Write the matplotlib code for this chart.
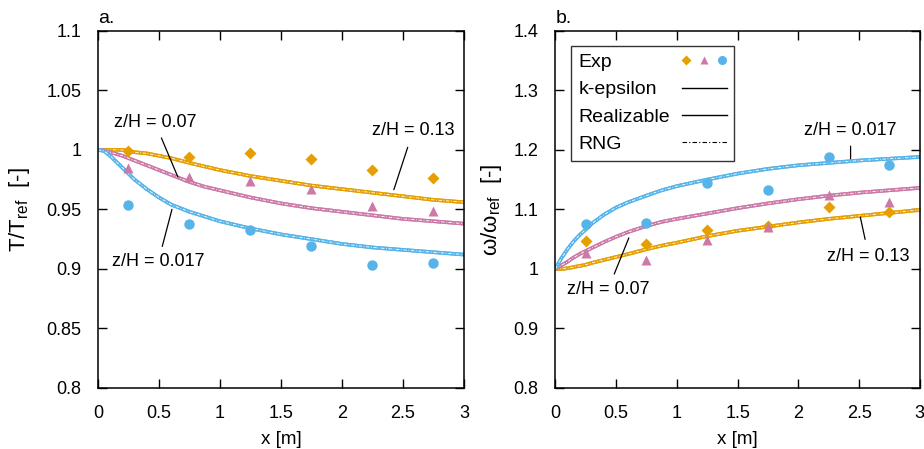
import numpy as np
import matplotlib.pyplot as plt
from matplotlib.lines import Line2D
from matplotlib.legend_handler import HandlerTuple

plt.rcParams['font.family'] = ['Liberation Sans', 'DejaVu Sans']
plt.rcParams['font.size'] = 13
plt.rcParams['mathtext.fontset'] = 'custom'
plt.rcParams['mathtext.rm'] = 'Liberation Sans'
plt.rcParams['mathtext.it'] = 'Liberation Sans:italic'

# colours (gnuplot-like)
c_org = '#E69F00'
c_pnk = '#CC79A7'
c_blu = '#56B4E9'

# experimental positions
x_exp = np.array([0.25, 0.75, 1.25, 1.75, 2.25, 2.75])

# a. temperature, experiments
T_exp_013 = [0.999, 0.994, 0.997, 0.992, 0.983, 0.976]
T_exp_007 = [0.985, 0.977, 0.974, 0.967, 0.953, 0.949]
T_exp_0017 = [0.954, 0.938, 0.933, 0.919, 0.903, 0.905]

# b. omega, experiments
w_exp_013 = [1.047, 1.042, 1.065, 1.072, 1.104, 1.095]
w_exp_007 = [1.026, 1.015, 1.049, 1.070, 1.124, 1.112]
w_exp_0017 = [1.076, 1.077, 1.144, 1.133, 1.188, 1.174]

# simulation curves
x_sim = np.array([0, 0.05, 0.1, 0.15, 0.2, 0.25, 0.3, 0.4, 0.5, 0.6, 0.75, 0.875, 1.0,
                  1.25, 1.5, 1.75, 2.0, 2.25, 2.5, 2.75, 3.0])
T_sim_013 = [1.0, 1.0, 1.0, 1.0, 0.9998, 0.9993, 0.998, 0.997, 0.995, 0.993, 0.989, 0.986, 0.983,
             0.978, 0.974, 0.970, 0.967, 0.964, 0.961, 0.958, 0.956]
T_sim_007 = [1.0, 0.9995, 0.998, 0.9965, 0.995, 0.993, 0.991, 0.987, 0.983, 0.979, 0.973, 0.969, 0.966,
             0.960, 0.955, 0.951, 0.948, 0.945, 0.942, 0.940, 0.938]
T_sim_0017 = [1.0, 0.999, 0.995, 0.990, 0.985, 0.980, 0.975, 0.967, 0.960, 0.954, 0.948, 0.944, 0.940,
              0.934, 0.929, 0.925, 0.921, 0.918, 0.916, 0.914, 0.912]
w_sim_013 = [1.0, 1.0, 1.001, 1.003, 1.005, 1.007, 1.010, 1.015, 1.020, 1.025, 1.033, 1.039, 1.044,
             1.055, 1.064, 1.071, 1.078, 1.084, 1.089, 1.094, 1.099]
w_sim_007 = [1.0, 1.006, 1.012, 1.019, 1.025, 1.030, 1.035, 1.045, 1.054, 1.062, 1.072, 1.079, 1.084,
             1.093, 1.102, 1.110, 1.117, 1.123, 1.128, 1.132, 1.136]
w_sim_0017 = [1.0, 1.018, 1.033, 1.046, 1.057, 1.066, 1.076, 1.091, 1.103, 1.112, 1.123, 1.132, 1.139,
              1.150, 1.160, 1.168, 1.174, 1.178, 1.182, 1.185, 1.188]

fig = plt.figure(figsize=(9.24, 4.49), dpi=100)
axA = fig.add_axes([0.106, 0.1359, 0.396, 0.7957])
axB = fig.add_axes([0.601, 0.1359, 0.3945, 0.7957])


def draw_curve(ax, y, col):
    ax.plot(x_sim, y, color=col, lw=2.6, solid_capstyle='butt')   # k-epsilon
    ax.plot(x_sim, y, color=col, lw=2.6, solid_capstyle='butt')   # Realizable
    ax.plot(x_sim, y, color='white', lw=0.6, ls=(0, (4, 2, 1, 2)))  # RNG


def style(ax):
    ax.set_xlim(0, 3)
    ax.set_xticks([0, 0.5, 1, 1.5, 2, 2.5, 3])
    ax.set_xticklabels(['0', '0.5', '1', '1.5', '2', '2.5', '3'])
    ax.tick_params(direction='in', length=6.5, width=1, top=True, right=True, pad=12, labelsize=13)
    for s in ax.spines.values():
        s.set_linewidth(1.1)
    ax.set_xlabel('x [m]', fontsize=13.5, labelpad=7)


arrow = dict(arrowstyle='-', lw=0.9, color='black', shrinkB=0)

for y, col in [(T_sim_013, c_org), (T_sim_007, c_pnk), (T_sim_0017, c_blu)]:
    draw_curve(axA, y, col)
axA.plot(x_exp, T_exp_013, 'D', color=c_org, ms=6.5, mec='none')
axA.plot(x_exp, T_exp_007, '^', color=c_pnk, ms=7.5, mec='none')
axA.plot(x_exp, T_exp_0017, 'o', color=c_blu, ms=7.5, mec='none')
style(axA)
axA.set_ylim(0.8, 1.1)
axA.set_yticks([0.8, 0.85, 0.9, 0.95, 1.0, 1.05, 1.1])
axA.set_yticklabels(['0.8', '0.85', '0.9', '0.95', '1', '1.05', '1.1'])
axA.set_ylabel(r'T/T$_{\mathrm{ref}}$  [-]', fontsize=16, labelpad=10)
axA.text(0, 1.103, 'a.', fontsize=14, ha='left', va='bottom')

axA.annotate('z/H = 0.07', xy=(0.656, 0.977), xytext=(0.13, 1.0226), fontsize=13,
             ha='left', va='center', arrowprops=dict(arrow, shrinkA=3))
axA.annotate('z/H = 0.017', xy=(0.607, 0.950), xytext=(0.115, 0.906), fontsize=13,
             ha='left', va='center', arrowprops=dict(arrow, shrinkA=3))
axA.annotate('z/H = 0.13', xy=(2.426, 0.9665), xytext=(2.246, 1.016), fontsize=13,
             ha='left', va='center', arrowprops=dict(arrow, shrinkA=4))

for y, col in [(w_sim_013, c_org), (w_sim_007, c_pnk), (w_sim_0017, c_blu)]:
    draw_curve(axB, y, col)
axB.plot(x_exp, w_exp_013, 'D', color=c_org, ms=6.5, mec='none')
axB.plot(x_exp, w_exp_007, '^', color=c_pnk, ms=7.5, mec='none')
axB.plot(x_exp, w_exp_0017, 'o', color=c_blu, ms=7.5, mec='none')
style(axB)
axB.set_ylim(0.8, 1.4)
axB.set_yticks([0.8, 0.9, 1.0, 1.1, 1.2, 1.3, 1.4])
axB.set_yticklabels(['0.8', '0.9', '1', '1.1', '1.2', '1.3', '1.4'])
axB.set_ylabel(r'ω/ω$_{\mathrm{ref}}$  [-]', fontsize=16, labelpad=7)
axB.text(0, 1.406, 'b.', fontsize=14, ha='left', va='bottom')

axB.annotate('z/H = 0.017', xy=(2.43, 1.185), xytext=(2.43, 1.232), fontsize=13,
             ha='center', va='center', arrowprops=dict(arrow, shrinkA=3))
axB.annotate('z/H = 0.07', xy=(0.605, 1.052), xytext=(0.095, 0.966), fontsize=13,
             ha='left', va='center', arrowprops=dict(arrow, shrinkA=3))
axB.annotate('z/H = 0.13', xy=(2.51, 1.087), xytext=(2.24, 1.0215), fontsize=13,
             ha='left', va='center', arrowprops=dict(arrow, shrinkA=4))

h_exp = (Line2D([], [], marker='D', ls='none', color=c_org, ms=5, mec='none'),
         Line2D([], [], marker='^', ls='none', color=c_pnk, ms=6, mec='none'),
         Line2D([], [], marker='o', ls='none', color=c_blu, ms=6.5, mec='none'))
h_ke = Line2D([], [], color='black', lw=1)
h_re = Line2D([], [], color='black', lw=1)
h_rng = Line2D([], [], color='black', lw=0.8, ls=(0, (4, 2, 1, 2)))
leg = axB.legend([h_exp, h_ke, h_re, h_rng], ['Exp', 'k-epsilon', 'Realizable', 'RNG'],
                 handler_map={tuple: HandlerTuple(ndivide=None, pad=0.5)},
                 loc='upper left', bbox_to_anchor=(0.0425, 0.958), borderaxespad=0,
                 markerfirst=False, fancybox=False, framealpha=1, edgecolor='#333333',
                 fontsize=14, handlelength=2.3, labelspacing=0.5, borderpad=0.4,
                 handletextpad=0.6)
leg.get_frame().set_linewidth(1.0)

# left-align legend labels while keeping handles on the right
fig.canvas.draw()
r = fig.canvas.get_renderer()
ppx = r.points_to_pixels(1.0)
rows = leg._legend_handle_box.get_children()[0].get_children()
tw = [row.get_children()[0].get_bbox(r).width / ppx for row in rows]
for row, w in zip(rows, tw):
    row.sep = row.sep + max(tw) - w

fig.savefig('out.png', dpi=100)
